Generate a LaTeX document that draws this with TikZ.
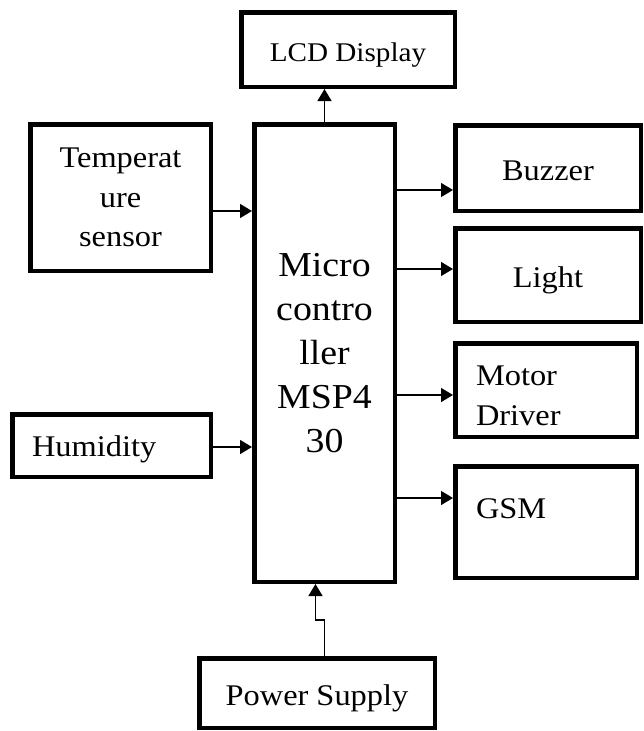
\documentclass[tikz,border=0pt]{standalone}
\usepackage{fontspec}
\setmainfont[FakeStretch=1.08]{Liberation Serif}
\usetikzlibrary{arrows.meta,calc}

\begin{document}
\begin{tikzpicture}[
  x=1pt,y=-1pt,
  box/.style={draw,line width=4.5pt,inner sep=0pt,align=center,font=\fontsize{30}{39.5}\selectfont},
  arrow/.style={-{Triangle[length=12pt,width=14pt]},line width=1.5pt}
]
\useasboundingbox (0,0) rectangle (643,731);
\node[box,minimum width=140.5pt,minimum height=457.5pt,font=\fontsize{35}{44}\selectfont] (mcu) at (324.5,353) {Micro\\contro\\ller\\MSP4\\30};
\node[box,minimum width=213.5pt,minimum height=74.5pt,font=\fontsize{27}{32}\selectfont,text height=23pt,text depth=0pt] (lcd) at (348,49.5) {LCD Display};
\node[box,minimum width=180.5pt,minimum height=146.5pt] (temp) at (120.5,197.5) {Temperat\\ure\\sensor};
\node[box,minimum width=198.5pt,minimum height=62.5pt,text width=159pt,align=left,text height=21pt,text depth=0pt] (hum) at (111.5,445.5) {Humidity};
\node[box,minimum width=185.5pt,minimum height=85.5pt,text height=24pt,text depth=0pt] (buzzer) at (548,168) {Buzzer};
\node[box,minimum width=185.5pt,minimum height=93.5pt,text height=24pt,text depth=0pt] (light) at (548,275) {Light};
\node[box,minimum width=181.5pt,minimum height=93.5pt,text width=140pt,align=left,text height=31pt] (motor) at (546,390) {Motor\\Driver};
\node[box,minimum width=181.5pt,minimum height=111.5pt,text width=140pt,align=left,text height=20pt,text depth=28pt] (gsm) at (546,522) {GSM};
\node[box,minimum width=235.5pt,minimum height=69.5pt,text height=24pt,text depth=0pt] (power) at (317,693) {Power Supply};
\draw[arrow] (mcu.north) -- (mcu.north |- lcd.south);
\draw[arrow] ($(temp.east)+(0,13.5)$) -- ($(temp.east -| mcu.west)+(0,13.5)$);
\draw[arrow] ($(hum.east)+(0,1.5)$) -- ($(hum.east -| mcu.west)+(0,1.5)$);
\draw[arrow] ($(mcu.east |- buzzer.west)+(0,22)$) -- ($(buzzer.west)+(0,22)$);
\draw[arrow] ($(mcu.east |- light.west)+(0,-6)$) -- ($(light.west)+(0,-6)$);
\draw[arrow] ($(mcu.east |- motor.west)+(0,5)$) -- ($(motor.west)+(0,5)$);
\draw[arrow] ($(mcu.east |- gsm.west)+(0,-24)$) -- ($(gsm.west)+(0,-24)$);
\draw[arrow] (power.north -| mcu.south) |- ($(mcu.south)+(-9,36)$) -- ($(mcu.south)+(-9,0)$);
\end{tikzpicture}
\end{document}
